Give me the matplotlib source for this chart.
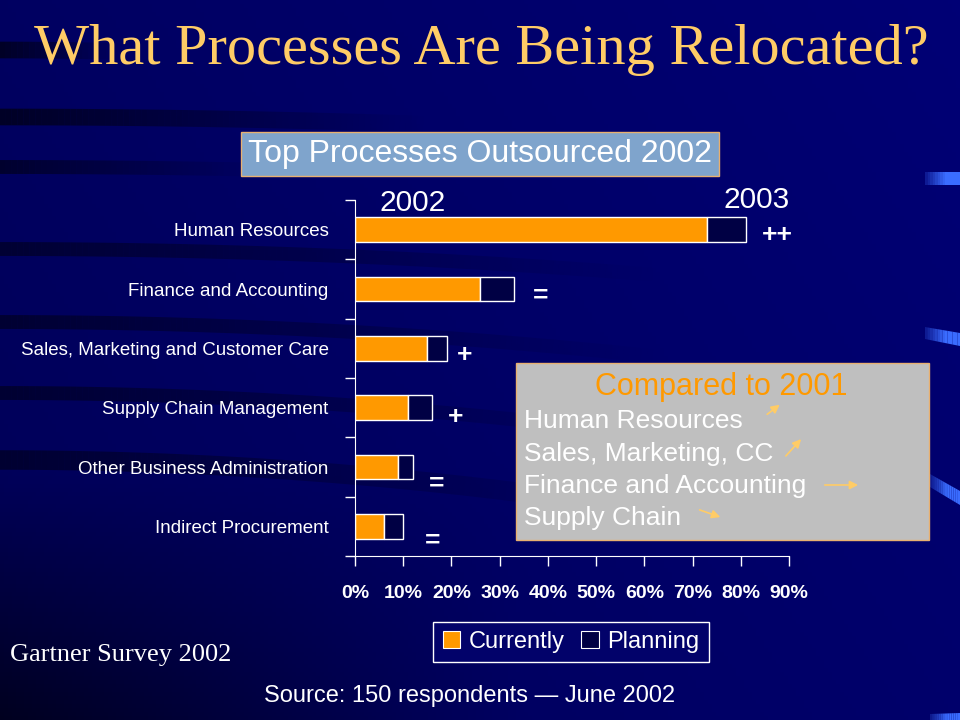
import numpy as np
import matplotlib
matplotlib.use('Agg')
import matplotlib.pyplot as plt
from matplotlib.patches import Rectangle, Patch, Polygon, FancyArrowPatch
from matplotlib.collections import LineCollection

# Datos
categorias = ['Human Resources', 'Finance and Accounting',
              'Sales, Marketing and Customer Care', 'Supply Chain Management',
              'Other Business Administration', 'Indirect Procurement']
actual = [73, 26, 15, 11, 9, 6]          # Currently (%)
total_2003 = [81, 33, 19, 16, 12, 10]     # Currently + Planning (%)
tendencia = ['++', '=', '+', '+', '=', '=']
x_ticks = [0, 10, 20, 30, 40, 50, 60, 70, 80, 90]
comparado = ['Human Resources', 'Sales, Marketing, CC',
             'Finance and Accounting', 'Supply Chain']

W, H = 960, 720
NAVY = '#02026a'
ORANGE = '#ff9900'
sans = ['Liberation Sans', 'DejaVu Sans']
serif = ['Liberation Serif', 'DejaVu Serif']

def fx(px):
    return px / W

def fy(py):
    return 1 - py / H

fig = plt.figure(figsize=(9.6, 7.2), dpi=100)

# Fondo: degradado con franjas oscuras que se desvanecen hacia la derecha
bg = fig.add_axes([0, 0, 1, 1], zorder=-5)
yy, xx = np.mgrid[0:H:4, 0:W:4]
shade = 0.34 + 0.08 * (xx / W) + 0.04 * (1 - yy / H)
shade = shade - 0.22 * np.clip((yy - 470) / 250, 0, 1) * np.clip(1 - xx / 520, 0, 1)
img = np.dstack([np.zeros_like(shade), np.zeros_like(shade), np.clip(shade, 0, 1)])
bg.imshow(img, extent=[0, W, H, 0], aspect='auto')
xs = np.linspace(0, 700, 120)
for y0, curv, lw, a, reach in [(50, 0.00010, 12, 0.6, 120), (117, 0.00004, 12, 0.6, 420),
                               (167, 0.00004, 10, 0.5, 260), (249, 0.00006, 10, 0.45, 650),
                               (322, 0.00008, 10, 0.45, 650), (393, 0.00010, 10, 0.45, 650),
                               (460, 0.00012, 14, 0.45, 650)]:
    ys = y0 + curv * xs ** 2
    pts = np.column_stack([xs, ys]).reshape(-1, 1, 2)
    segs = np.concatenate([pts[:-1], pts[1:]], axis=1)
    alph = a * np.clip(1 - xs[:-1] / reach, 0, 1)
    cols = np.zeros((len(segs), 4))
    cols[:, 3] = alph
    bg.add_collection(LineCollection(segs, colors=cols, linewidths=lw, capstyle='butt'))
for pts in [[(925, 172), (960, 172), (960, 185), (925, 185)],
            [(925, 327), (960, 333), (960, 346), (925, 339)],
            [(930, 474), (960, 491), (960, 505), (930, 487)],
            [(930, 714), (960, 713), (960, 720), (930, 720)]]:
    pts = np.array(pts, dtype=float)
    n = 14
    for k in range(n):
        t0, t1 = k / n, (k + 1) / n
        left = pts[0] + (pts[1] - pts[0]) * t0
        right = pts[0] + (pts[1] - pts[0]) * t1
        left2 = pts[3] + (pts[2] - pts[3]) * t0
        right2 = pts[3] + (pts[2] - pts[3]) * t1
        bg.add_patch(Polygon([left, right, right2, left2], closed=True, color='#3a6cff',
                             alpha=0.15 + 0.85 * min(1, t1 * 1.6), lw=0))
bg.set_xlim(0, W)
bg.set_ylim(H, 0)
bg.axis('off')

# Titulo
fig.text(fx(481), fy(50), 'What Processes Are Being Relocated?', ha='center', va='center',
         color='#ffcc66', fontsize=42, family=serif)

# Subtitulo en caja
fig.text(fx(480), fy(154), 'Top Processes Outsourced 2002', ha='center', va='center',
         color='white', fontsize=23, family=sans,
         bbox=dict(boxstyle='square,pad=0.22', facecolor='#7fa4cc', edgecolor='#e8b070', lw=1))

# Grafico de barras
ax = fig.add_axes([fx(355), fy(556), (789 - 355) / W, (556 - 200) / H])
ax.set_facecolor('none')
y = np.arange(len(categorias))
planificado = [t - a for t, a in zip(total_2003, actual)]
ax.barh(y, actual, height=0.42, color=ORANGE, edgecolor='white', lw=1, label='Currently')
ax.barh(y, planificado, left=actual, height=0.42, color='#000044', edgecolor='white', lw=1,
        label='Planning')
ax.set_ylim(len(categorias) - 0.5, -0.5)
ax.set_xlim(0, 90)
ax.set_xticks(x_ticks)
ax.set_xticklabels([f'{v}%' for v in x_ticks], family=sans, fontsize=14,
                   fontweight='bold', color='white')
ax.set_yticks(y)
ax.set_yticklabels(categorias, family=sans, fontsize=13.5, color='white')
ax.set_yticks(np.arange(-0.5, len(categorias), 1), minor=True)
ax.tick_params(axis='y', which='major', length=0, pad=19)
ax.tick_params(axis='y', which='minor', length=7, color='white', width=1)
ax.tick_params(axis='x', length=7, color='white', width=1, pad=14)
for s in ['top', 'right']:
    ax.spines[s].set_visible(False)
for s in ['left', 'bottom']:
    ax.spines[s].set_color('white')

# Marcas de tendencia junto a cada barra
offsets = [(32, 5), (26, 7), (18, 7), (23, 9), (24, 17), (29, 14)]
for i, (t, tot) in enumerate(zip(tendencia, total_2003)):
    dx, dy = offsets[i]
    ax.annotate(t, (tot, i), xytext=(dx, -dy), textcoords='offset pixels',
                ha='center', va='center', color='white', fontsize=19,
                fontweight='bold', family=sans)

fig.text(fx(413), fy(203), '2002', ha='center', va='center', color='white',
         fontsize=21.5, family=sans)
fig.text(fx(757), fy(200), '2003', ha='center', va='center', color='white',
         fontsize=21.5, family=sans)

# Caja comparativa
fig.patches.append(Rectangle((fx(516), fy(540)), (929 - 516) / W, (540 - 363) / H,
                             transform=fig.transFigure, facecolor='#bfbfbf',
                             edgecolor='#e8b070', lw=1, zorder=3))
fig.text(fx(721), fy(387), 'Compared to 2001', ha='center', va='center',
         color=ORANGE, fontsize=22, family=sans, zorder=4)
for k, linea in enumerate(comparado):
    fig.text(fx(524), fy(421 + 32.5 * k), linea, ha='left', va='center',
             color='white', fontsize=19, family=sans, zorder=4)
flechas = [((765, 416), (782, 403)), ((784, 458), (803, 437)),
           ((822, 485), (861, 485)), ((697, 509), (723, 518))]
for (x0, y0), (x1, y1) in flechas:
    fig.add_artist(FancyArrowPatch(
        (fx(x0), fy(y0)), (fx(x1), fy(y1)), transform=fig.transFigure,
        arrowstyle='-|>,head_length=5,head_width=2.5', color='#ffcc66', lw=1.2, zorder=5))

# Leyenda
handles = [Patch(facecolor=ORANGE, edgecolor='white', lw=0.8, label='Currently'),
           Patch(facecolor='#000044', edgecolor='white', lw=0.8, label='Planning')]
leg = fig.legend(handles=handles, loc='center', bbox_to_anchor=(fx(571), fy(642)), ncol=2,
                 frameon=True, fancybox=False, facecolor=NAVY, edgecolor='white',
                 framealpha=1, handlelength=0.75, handleheight=0.75, handletextpad=0.35,
                 columnspacing=0.7, borderpad=0.4, borderaxespad=0,
                 prop={'family': sans, 'size': 17})
for t in leg.get_texts():
    t.set_color('white')
leg.get_frame().set_linewidth(1)

fig.text(fx(10), fy(655), 'Gartner Survey 2002', ha='left', va='center', color='white',
         fontsize=19, family=serif)
fig.text(fx(470), fy(696), 'Source: 150 respondents \u2014 June 2002', ha='center',
         va='center', color='white', fontsize=17, family=sans)

fig.savefig('out.png', dpi=100)
